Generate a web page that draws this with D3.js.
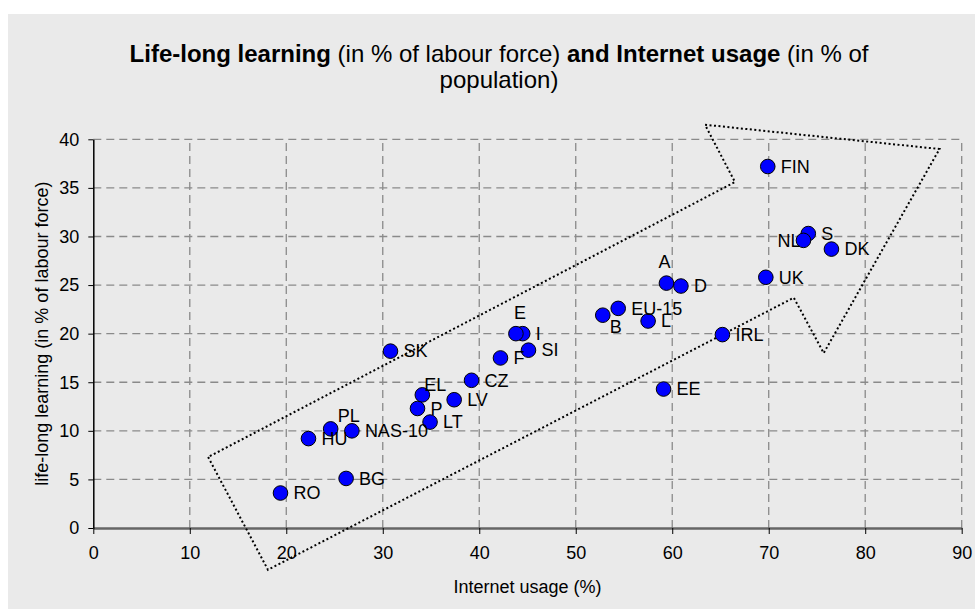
<!DOCTYPE html>
<head>
  <meta charset="utf-8">
  <script src="https://d3js.org/d3.v7.min.js"></script>
  <style>
    body { margin:0; background:#fff; }
    text { font-family: Arial, "Liberation Sans", sans-serif; fill:#000; }
  </style>
</head>
<body>
<script>
  // country codes, internet usage (%) and life-long learning (% of labour force)
  var countries = ["FIN","S","NL","DK","UK","A","D","IRL","EU-15","B","L","I","E","SI","F","CZ","EL","LV","P","LT","EE","SK","PL","NAS-10","HU","BG","RO"];
  var internet  = [69.9, 74.1, 73.6, 76.5, 69.7, 59.4, 60.9, 65.2, 54.4, 52.8, 57.5, 44.5, 43.8, 45.1, 42.2, 39.2, 34.1, 37.4, 33.6, 34.9, 59.1, 30.8, 24.6, 26.8, 22.3, 26.2, 19.4];
  var learning  = [37.2, 30.3, 29.6, 28.7, 25.8, 25.2, 24.9, 19.9, 22.6, 21.9, 21.3, 20.0, 20.0, 18.3, 17.5, 15.2, 13.7, 13.2, 12.3, 10.9, 14.3, 18.2, 10.2, 10.0, 9.2, 5.1, 3.6];

  var xTicks = [0,10,20,30,40,50,60,70,80,90];
  var yTicks = [0,5,10,15,20,25,30,35,40];

  // dotted trend arrow, vertices in data units
  var arrowX = [11.9, 18.1, 72.6, 75.7, 87.7, 63.4, 66.5];
  var arrowY = [7.3, -4.3, 23.7, 18.0, 39.0, 41.5, 35.6];

  // where labels sit that are not simply right of the point
  var labelSpot = {"A":"above", "E":"above", "NL":"left", "B":"below", "EL":"upRight", "PL":"upRight"};

  var W = 975, H = 609;
  var margin = {top: 139.3, right: 13.3, bottom: 81, left: 93.3};

  var svg = d3.select("body").append("svg")
    .attr("width", W).attr("height", H);

  svg.append("rect").attr("x", 8).attr("y", 14)
    .attr("width", W - 8).attr("height", H - 14)
    .attr("fill", "#eaeaea");

  var x = d3.scaleLinear().domain([0, 90]).range([margin.left, W - margin.right]);
  var y = d3.scaleLinear().domain([0, 40]).range([H - margin.bottom, margin.top]);

  // title
  var title = svg.append("text").attr("x", 499).attr("y", 61.5)
    .attr("text-anchor", "middle").style("font-size", "24px");
  title.append("tspan").style("font-weight", "bold").text("Life-long learning");
  title.append("tspan").text(" (in % of labour force) ");
  title.append("tspan").style("font-weight", "bold").text("and Internet usage");
  title.append("tspan").text(" (in % of");
  svg.append("text").attr("x", 499).attr("y", 88)
    .attr("text-anchor", "middle").style("font-size", "24px").text("population)");

  // grid
  var grid = svg.append("g").attr("stroke", "#8a8a8a").attr("stroke-width", 1.3)
    .attr("stroke-dasharray", "8,5");
  grid.selectAll(".gx").data(xTicks.slice(1)).enter().append("line")
    .attr("x1", function(d){ return x(d); }).attr("x2", function(d){ return x(d); })
    .attr("y1", y(0)).attr("y2", y(40));
  grid.selectAll(".gy").data(yTicks.slice(1)).enter().append("line")
    .attr("x1", x(0)).attr("x2", x(90))
    .attr("y1", function(d){ return y(d); }).attr("y2", function(d){ return y(d); });

  // axes
  var xAxis = svg.append("g").attr("transform", "translate(0," + y(0) + ")")
    .call(d3.axisBottom(x).tickValues(xTicks).tickSize(6).tickPadding(12).tickSizeOuter(0));
  xAxis.select(".domain").attr("stroke", "#666").attr("stroke-width", 2.5);
  xAxis.selectAll(".tick line").attr("stroke", "#000");
  xAxis.selectAll("text").style("font-size", "18px").attr("font-family", null);

  var yAxis = svg.append("g").attr("transform", "translate(" + x(0) + ",0)")
    .call(d3.axisLeft(y).tickValues(yTicks).tickSize(5).tickPadding(9).tickSizeOuter(0));
  yAxis.select(".domain").attr("stroke", "#000").attr("stroke-width", 1.5);
  yAxis.selectAll(".tick line").attr("stroke", "#000");
  yAxis.selectAll("text").style("font-size", "18px").attr("font-family", null);

  svg.append("text").attr("x", (x(0) + x(90)) / 2).attr("y", 593)
    .attr("text-anchor", "middle").style("font-size", "18px").text("Internet usage (%)");
  svg.append("text")
    .attr("transform", "translate(48," + ((y(0) + y(40)) / 2) + ") rotate(-90)")
    .attr("text-anchor", "middle").style("font-size", "18px")
    .text("life-long learning (in % of labour force)");

  // arrow
  var arrowPts = arrowX.map(function(v, i){ return [x(v), y(arrowY[i])]; });
  svg.append("path")
    .attr("d", d3.line()(arrowPts) + "Z")
    .attr("fill", "none").attr("stroke", "#000").attr("stroke-width", 2)
    .attr("stroke-dasharray", "2,2.5");

  // points
  var data = countries.map(function(c, i){ return {name: c, ix: internet[i], ll: learning[i]}; });

  svg.selectAll(".dot").data(data).enter().append("circle")
    .attr("class", "dot")
    .attr("cx", function(d){ return x(d.ix); })
    .attr("cy", function(d){ return y(d.ll); })
    .attr("r", 7.3)
    .attr("fill", "#0000ff").attr("stroke", "#000").attr("stroke-width", 1);

  svg.selectAll(".lab").data(data).enter().append("text")
    .attr("class", "lab")
    .style("font-size", "18px")
    .attr("dy", "0.35em")
    .attr("text-anchor", function(d){
      var s = labelSpot[d.name];
      if (s == "above") return "middle";
      if (s == "left") return "end";
      return "start";
    })
    .attr("x", function(d){
      var s = labelSpot[d.name], px = x(d.ix);
      if (s == "above") return d.name == "E" ? px + 4 : px - 2;
      if (s == "left") return px - 3;
      if (s == "below") return px + 7;
      if (s == "upRight") return px + (d.name == "EL" ? 2 : 7);
      return px + 13;
    })
    .attr("y", function(d){
      var s = labelSpot[d.name], py = y(d.ll);
      if (s == "above") return py - 21;
      if (s == "below") return py + 12;
      if (s == "upRight") return py - (d.name == "EL" ? 10 : 13);
      return py;
    })
    .text(function(d){ return d.name; });
</script>
</body>
